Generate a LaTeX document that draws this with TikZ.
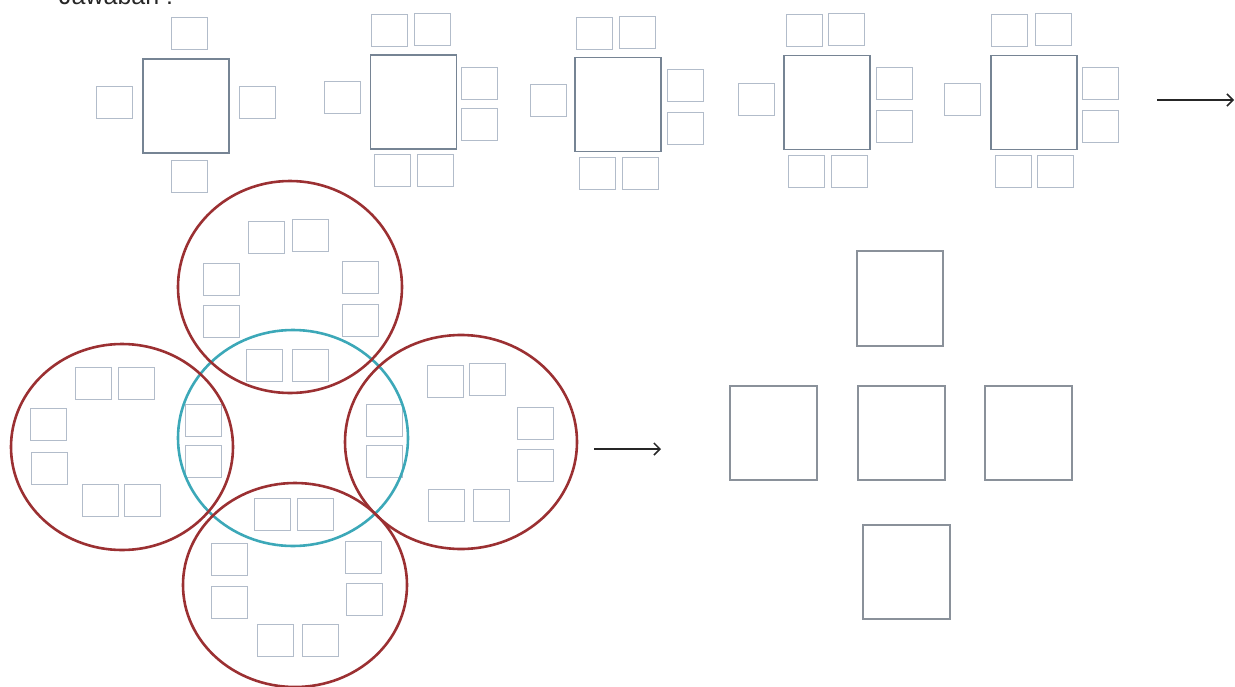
\documentclass[tikz,border=0pt]{standalone}
\usepackage{fontspec}
\setmainfont{Liberation Sans}
\usetikzlibrary{arrows.meta}
\definecolor{chairc}{RGB}{178,188,202}
\definecolor{tablec}{RGB}{118,132,148}
\definecolor{sqc}{RGB}{138,145,154}
\definecolor{ringred}{RGB}{155,48,50}
\definecolor{ringcyan}{RGB}{60,168,184}
\tikzset{
 chair/.style={draw=chairc, line width=1pt, minimum width=36pt, minimum height=32pt, inner sep=0pt, outer sep=0pt},
 tbl/.style={draw=tablec, line width=1.4pt, minimum width=86pt, minimum height=94pt, inner sep=0pt, outer sep=0pt},
 bigsq/.style={draw=sqc, line width=1.4pt, minimum width=87pt, minimum height=94pt, inner sep=0pt, outer sep=0pt},
 ring/.style={draw=ringred, line width=2.6pt},
 cring/.style={draw=ringcyan, line width=2.6pt},
 arr/.style={-{Straight Barb[length=6pt,width=12pt]}, line width=1.5pt, black!85}
}
\begin{document}
\begin{tikzpicture}[x=1pt,y=-1pt]
\useasboundingbox (0,0) rectangle (1235,686);

% heading (cut off at the top)
\node[anchor=base west, inner sep=0pt, text=black!85, font=\fontsize{25}{30}\selectfont] (jawaban) at (59,4) {Jawaban :};

% ---- top row: table 1
\node[tbl] (t1) at (186,106) {};
\node[chair] (t1a) at (189,33) {};
\node[chair] (t1b) at (189,176) {};
\node[chair] (t1c) at (114.5,102) {};
\node[chair] (t1d) at (257,102) {};
% table 2
\node[tbl] (t2) at (413.5,102) {};
\node[chair] (t2a) at (389,30) {};
\node[chair] (t2b) at (432.5,29.5) {};
\node[chair] (t2c) at (392,170) {};
\node[chair] (t2d) at (435.5,170) {};
\node[chair] (t2e) at (342,97) {};
\node[chair] (t2f) at (479.5,83) {};
\node[chair] (t2g) at (479.5,124.5) {};
% table 3
\node[tbl] (t3) at (618,104.5) {};
\node[chair] (t3a) at (594.5,33) {};
\node[chair] (t3b) at (637,32) {};
\node[chair] (t3c) at (597,173) {};
\node[chair] (t3d) at (640,173) {};
\node[chair] (t3e) at (548,100.5) {};
\node[chair] (t3f) at (685,85) {};
\node[chair] (t3g) at (685,128) {};
% table 4
\node[tbl] (t4) at (827,102.5) {};
\node[chair] (t4a) at (804,30) {};
\node[chair] (t4b) at (846,29) {};
\node[chair] (t4c) at (806.5,171) {};
\node[chair] (t4d) at (849,171) {};
\node[chair] (t4e) at (756,99) {};
\node[chair] (t4f) at (894,83.5) {};
\node[chair] (t4g) at (894,126) {};
% table 5
\node[tbl] (t5) at (1034,102.5) {};
\node[chair] (t5a) at (1009.5,30) {};
\node[chair] (t5b) at (1053,29) {};
\node[chair] (t5c) at (1013,171) {};
\node[chair] (t5d) at (1055,171) {};
\node[chair] (t5e) at (962.5,99) {};
\node[chair] (t5f) at (1100.5,83.5) {};
\node[chair] (t5g) at (1100.5,126) {};

\coordinate (a1s) at (1157,100);
\coordinate (a1e) at (1234,100);
\draw[arr] (a1s) -- (a1e);

% ---- circle group: chairs
% top circle
\node[chair] (ua) at (266,237) {};
\node[chair] (ub) at (310,235) {};
\node[chair] (uc) at (221,279) {};
\node[chair] (ud) at (221,321.5) {};
\node[chair] (ue) at (360,277.5) {};
\node[chair] (uf) at (360,320) {};
\node[chair] (ug) at (264.5,365.5) {};
\node[chair] (uh) at (310,365.5) {};
% left circle
\node[chair] (la) at (93.5,383) {};
\node[chair] (lb) at (136,383) {};
\node[chair] (lc) at (48,424.5) {};
\node[chair] (ld) at (49.5,468.5) {};
\node[chair] (le) at (100,500) {};
\node[chair] (lf) at (142,500) {};
\node[chair] (lg) at (203,420) {};
\node[chair] (lh) at (203.5,461) {};
% right circle
\node[chair] (ra) at (445,381) {};
\node[chair] (rb) at (487.5,379) {};
\node[chair] (rc) at (535,423) {};
\node[chair] (rd) at (535,465) {};
\node[chair] (re) at (446,505) {};
\node[chair] (rf) at (491.5,505) {};
\node[chair] (rg) at (384,420) {};
\node[chair] (rh) at (384.5,461) {};
% bottom circle
\node[chair] (da) at (272,514) {};
\node[chair] (db) at (315,514) {};
\node[chair] (dc) at (229,559) {};
\node[chair] (dd) at (229,602) {};
\node[chair] (de) at (363.5,557.5) {};
\node[chair] (df) at (364,599) {};
\node[chair] (dg) at (275,640) {};
\node[chair] (dh) at (320.5,640) {};

% rings
\draw[cring] (293,438) ellipse [x radius=115pt, y radius=108pt];
\draw[ring] (290,287) ellipse [x radius=112pt, y radius=106pt];
\draw[ring] (122,447) ellipse [x radius=111pt, y radius=103pt];
\draw[ring] (461,442) ellipse [x radius=116pt, y radius=107pt];
\draw[ring] (295,585) ellipse [x radius=112pt, y radius=102pt];

\coordinate (a2s) at (594,449);
\coordinate (a2e) at (661,449);
\draw[arr] (a2s) -- (a2e);

% ---- right: five squares
\node[bigsq, minimum width=86pt, minimum height=95pt] (sq1) at (900,298.5) {};
\node[bigsq] (sq2) at (773.5,433) {};
\node[bigsq] (sq3) at (901.5,433) {};
\node[bigsq] (sq4) at (1028.5,433) {};
\node[bigsq] (sq5) at (906.5,572) {};
\end{tikzpicture}
\end{document}
